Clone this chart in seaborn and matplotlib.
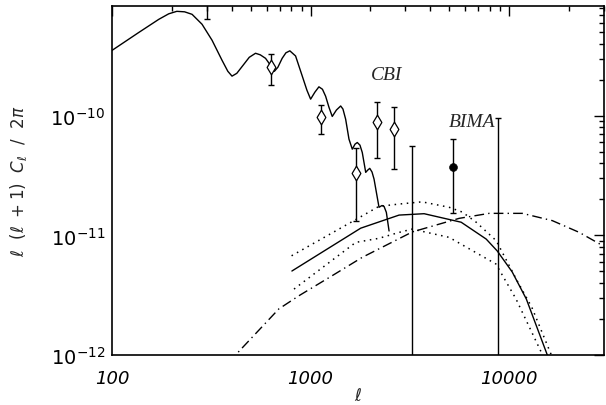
import numpy as np
import matplotlib
matplotlib.use("Agg")
import matplotlib.pyplot as plt
import seaborn as sns
from matplotlib.ticker import LogLocator, NullFormatter, FixedLocator, FixedFormatter

# Theory power spectrum (solid, left)
theory_ell = [99, 136, 172, 193, 212, 232, 253, 284, 319, 358, 383, 402, 425, 461, 491, 528,
              558, 593, 623, 657, 684, 719, 751, 786, 840, 907, 958, 1000, 1051, 1101, 1147,
              1190, 1237, 1285, 1349, 1417, 1455, 1501, 1560, 1621, 1673, 1718, 1772, 1820,
              1894, 1939, 1985, 2038, 2086, 2210, 2289, 2342, 2406, 2483]
theory_cl = [3.49e-10, 4.97e-10, 6.42e-10, 7.14e-10, 7.49e-10, 7.42e-10, 7.07e-10, 5.84e-10,
             4.29e-10, 2.92e-10, 2.36e-10, 2.15e-10, 2.27e-10, 2.70e-10, 3.09e-10, 3.34e-10,
             3.24e-10, 3.03e-10, 2.70e-10, 2.36e-10, 2.55e-10, 3.03e-10, 3.37e-10, 3.50e-10,
             3.17e-10, 2.16e-10, 1.64e-10, 1.38e-10, 1.58e-10, 1.75e-10, 1.67e-10, 1.46e-10,
             1.18e-10, 9.89e-11, 1.12e-10, 1.21e-10, 1.14e-10, 9.38e-11, 6.39e-11, 5.27e-11,
             5.80e-11, 5.99e-11, 5.69e-11, 4.94e-11, 3.37e-11, 3.52e-11, 3.64e-11, 3.39e-11,
             2.96e-11, 1.72e-11, 1.78e-11, 1.75e-11, 1.56e-11, 1.09e-11]

# SZ model (solid) with upper / lower envelopes (dotted)
sz_ell = [805, 1787, 2788, 3727, 5727, 7653, 8706, 10350, 12190, 15550, 16500]
sz_cl = [5.04e-12, 1.15e-11, 1.48e-11, 1.52e-11, 1.29e-11, 9.33e-12, 7.41e-12, 4.95e-12,
         2.94e-12, 1.0e-12, 7.0e-13]
sz_hi_ell = [802, 1652, 2207, 2787, 3640, 4980, 5794, 6818, 8604, 10840, 13000, 16290, 17300]
sz_hi_cl = [6.76e-12, 1.33e-11, 1.75e-11, 1.83e-11, 1.91e-11, 1.72e-11, 1.57e-11, 1.29e-11,
            9.03e-12, 4.32e-12, 2.5e-12, 1.0e-12, 7.0e-13]
sz_lo_ell = [825, 1688, 2207, 2787, 3243, 4980, 8570, 10820, 14720, 15600]
sz_lo_cl = [3.56e-12, 8.75e-12, 9.46e-12, 1.06e-11, 1.13e-11, 9.64e-12, 5.77e-12, 2.94e-12,
            1.0e-12, 7.0e-13]

# second model (dash-dot)
alt_ell = [387, 692, 873, 1285, 1820, 3251, 5598, 7925, 11640, 16480, 22530, 29800]
alt_cl = [8.7e-13, 2.43e-12, 3.13e-12, 4.61e-12, 6.56e-12, 1.07e-11, 1.39e-11, 1.53e-11,
          1.53e-11, 1.33e-11, 1.06e-11, 8.15e-12]

# CBI band powers (diamonds)
cbi_ell = [302, 632, 1123, 1698, 2167, 2622]
cbi_cl = [1.0e-9, 2.54e-10, 9.8e-11, 3.30e-11, 8.81e-11, 7.74e-11]
cbi_hi = [1.3e-9, 3.32e-10, 1.23e-10, 5.34e-11, 1.31e-10, 1.18e-10]
cbi_lo = [6.43e-10, 1.80e-10, 7.03e-11, 1.33e-11, 4.46e-11, 3.57e-11]

# BIMA detection (filled circle)
bima_ell = [5220]
bima_cl = [3.71e-11]
bima_hi = [6.39e-11]
bima_lo = [1.54e-11]

# upper limits (bars down to zero)
lim_ell = [3251, 8800]
lim_hi = [5.61e-11, 9.51e-11]
lim_floor = 1e-14

xtick_vals = [100, 1000, 10000]
xtick_labels = ["100", "1000", "10000"]
ytick_vals = [1e-12, 1e-11, 1e-10]
ytick_labels = [r"$\mathit{10}^{\mathit{-12}}$", r"$\mathit{10}^{\mathit{-11}}$",
                r"$\mathit{10}^{\mathit{-10}}$"]

sns.set_theme(style="white")
plt.rcParams["font.family"] = ["DejaVu Sans"]
plt.rcParams["mathtext.fontset"] = "dejavusans"

fig = plt.figure(figsize=(6.06, 4.06), dpi=100)
ax = fig.add_axes([112 / 606, 50 / 406, 492 / 606, 349 / 406])
ax.set_xscale("log")
ax.set_yscale("log")

lw = 1.0
sns.lineplot(x=theory_ell, y=theory_cl, ax=ax, color="black", lw=lw, sort=False, estimator=None)
sns.lineplot(x=sz_ell, y=sz_cl, ax=ax, color="black", lw=lw, sort=False, estimator=None)
for e, c in [(sz_hi_ell, sz_hi_cl), (sz_lo_ell, sz_lo_cl)]:
    sns.lineplot(x=e, y=c, ax=ax, color="black", lw=1.1, sort=False, estimator=None,
                 linestyle=(0, (1, 3)))
sns.lineplot(x=alt_ell, y=alt_cl, ax=ax, color="black", lw=lw, sort=False, estimator=None,
             linestyle=(0, (7, 3, 1, 3)))

cbi_cl_a = np.array(cbi_cl)
ax.errorbar(cbi_ell, cbi_cl,
            yerr=[cbi_cl_a - np.array(cbi_lo), np.array(cbi_hi) - cbi_cl_a],
            fmt="none", ecolor="black", elinewidth=lw, capsize=2.2, capthick=lw)
sns.scatterplot(x=cbi_ell, y=cbi_cl, ax=ax, marker="d", s=55, facecolor="white",
                edgecolor="black", linewidth=0.9, zorder=5)

bima_cl_a = np.array(bima_cl)
ax.errorbar(bima_ell, bima_cl,
            yerr=[bima_cl_a - np.array(bima_lo), np.array(bima_hi) - bima_cl_a],
            fmt="none", ecolor="black", elinewidth=lw, capsize=2.2, capthick=lw)
sns.scatterplot(x=bima_ell, y=bima_cl, ax=ax, marker="o", s=32, color="black",
                edgecolor="black", zorder=5)

lim_hi_a = np.array(lim_hi)
ax.errorbar(lim_ell, [lim_floor] * len(lim_ell),
            yerr=[np.zeros(len(lim_ell)), lim_hi_a - lim_floor],
            fmt="none", ecolor="black", elinewidth=lw, capsize=2.2, capthick=lw)

ax.text(2412, 2.23e-10, "CBI", family="Liberation Serif", style="italic", fontsize=14,
        ha="center", va="center")
ax.text(6530, 8.9e-11, "BIMA", family="Liberation Serif", style="italic", fontsize=14,
        ha="center", va="center")

ax.set_xlim(100, 30000)
ax.set_ylim(1e-12, 8.3e-10)

ax.xaxis.set_major_locator(FixedLocator(xtick_vals))
ax.xaxis.set_major_formatter(FixedFormatter(xtick_labels))
ax.yaxis.set_major_locator(FixedLocator(ytick_vals))
ax.yaxis.set_major_formatter(FixedFormatter(ytick_labels))
ax.xaxis.set_minor_locator(LogLocator(base=10, subs=np.arange(2, 10), numticks=20))
ax.yaxis.set_minor_locator(LogLocator(base=10, subs=np.arange(2, 10), numticks=20))
ax.xaxis.set_minor_formatter(NullFormatter())
ax.yaxis.set_minor_formatter(NullFormatter())

ax.tick_params(which="both", direction="in", top=True, right=True, colors="black")
ax.tick_params(which="major", length=7, width=1.0)
ax.tick_params(which="minor", length=3.8, width=1.0)
ax.tick_params(axis="x", which="major", pad=10, labelsize=13)
ax.tick_params(axis="y", which="major", pad=5, labelsize=14)
for lab in ax.get_xticklabels():
    lab.set_fontstyle("italic")

for sp in ax.spines.values():
    sp.set_color("black")
    sp.set_linewidth(1.2)

ax.set_xlabel(r"$\mathit{\ell}$", fontsize=12)
ax.set_ylabel(r"$\mathit{\ell\ \ (\ell\ +1)\ \ C_{\ell}\ \ /\ \ 2\pi}$", fontsize=12)
ax.xaxis.set_label_coords(0.5, -0.09)
ax.yaxis.set_label_coords(-0.168, 0.5)

fig.savefig("out.png", dpi=100, facecolor="white")
